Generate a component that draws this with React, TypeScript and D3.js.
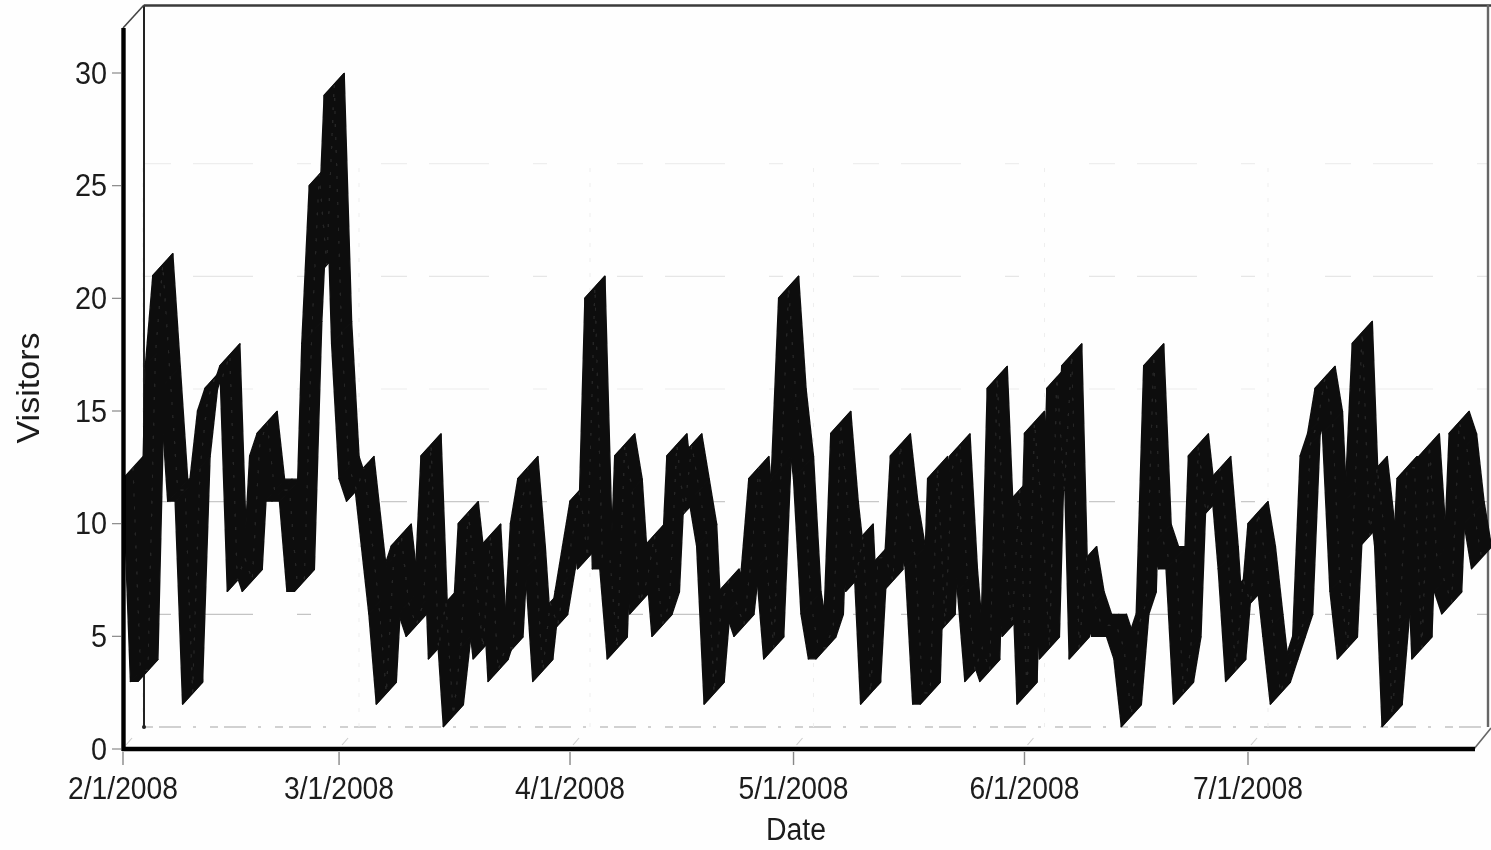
import React from "react";
import * as d3 from "d3";

const startDate = "2008-02-01";
const visitors = [
  12,3,3,17,21,16,11,11,2,12,
  15,16,16,17,7,8,7,13,14,11,
  11,11,7,7,18,25,21,29,18,12,
  11,12,9,6,2,8,9,6,5,6,
  13,4,6,1,4,10,7,4,9,3,
  4,4,10,12,8,3,6,5,7,9,
  11,8,20,8,8,4,13,11,6,7,
  9,5,6,13,10,13,11,9,2,6,
  7,6,5,8,12,8,4,12,20,15,
  12,6,4,4,5,14,10,7,9,2,
  8,8,7,13,10,8,2,2,12,5,
  12,13,7,3,4,3,16,8,5,11,
  2,14,10,4,16,11,17,4,8,6,
  5,5,5,4,1,5,6,17,9,8,
  8,2,4,13,10,11,12,8,3,7,
  6,10,8,5,2,3,4,5,13,14,
  16,14,7,4,11,18,9,12,9,1,
  5,12,12,4,13,8,7,6,14,13,
  10,8,
];
const yTicks = [0, 5, 10, 15, 20, 25, 30];
const gridLevels = [5, 10, 15, 20, 25];
const gridShades = ["#c4c4c4", "#c8c8c8", "#ececec", "#e6e6e6", "#eeeeee"];
const xTickLabels = ["2/1/2008", "3/1/2008", "4/1/2008", "5/1/2008", "6/1/2008", "7/1/2008"];
const yTitle = "Visitors";
const xTitle = "Date";

const W = 1491;
const H = 850;
const dx = 20;
const dy = 22;
const parse = d3.utcParse("%Y-%m-%d");
const parseTick = d3.utcParse("%m/%d/%Y");
const t0 = parse(startDate) as Date;
const dates = visitors.map((_, i) => d3.utcDay.offset(t0, i));
const x = d3.scaleUtc().domain([t0, dates[dates.length - 1]]).range([123, 1471.5]);
const y = d3.scaleLinear().domain([0, 30]).range([749, 73]);
const FONT = "'Liberation Sans', Arial, sans-serif";

type P = { d: Date; v: number };
const points: P[] = visitors.map((v, i) => ({ d: dates[i], v }));
const area = d3
  .area<P>()
  .x0((p) => x(p.d))
  .y0((p) => y(p.v))
  .x1((p) => x(p.d) + dx)
  .y1((p) => y(p.v) - dy);
const midLine = d3
  .line<P>()
  .x((p) => x(p.d) + dx / 2)
  .y((p) => y(p.v) - dy / 2);

export default function App() {
  const backX0 = 123 + dx + 2;
  const backXEnd = 1488;
  const floorBack = y(0) - dy;
  return (
    <svg
      width={W}
      height={H}
      viewBox={`0 0 ${W} ${H}`}
      style={{ position: "absolute", left: 0, top: 0, background: "#fefefe" }}
      fontFamily={FONT}
    >
      <defs>
        <filter id="scan" x="-2%" y="-2%" width="104%" height="104%">
          <feGaussianBlur stdDeviation="0.6" />
        </filter>
      </defs>
      <g filter="url(#scan)">
        {/* back wall grid */}
        {gridLevels.map((v, i) => (
          <line
            key={v}
            x1={backX0}
            x2={backXEnd}
            y1={y(v) - dy}
            y2={y(v) - dy}
            stroke={gridShades[i]}
            strokeWidth={1.1}
            strokeDasharray="26 22 60 44 14 70"
          />
        ))}
        <line x1={backX0} x2={backXEnd} y1={floorBack} y2={floorBack} stroke="#c2c2c2" strokeWidth={1.3} strokeDasharray="8 6 22 12 3 14" />
        {xTickLabels.map((t) => {
          const px = x(parseTick(t) as Date);
          return (
            <g key={t}>
              <line x1={px + dx} x2={px + dx} y1={floorBack} y2={y(25) - dy} stroke="#eeeeee" strokeWidth={1} strokeDasharray="4 11" />
              <line x1={px + 3} x2={px + dx - 11} y1={y(0) - 4} y2={y(0) - dy + 11} stroke="#cccccc" strokeWidth={1.1} />
            </g>
          );
        })}

        {/* box frame */}
        <line x1={backX0 - 1} x2={backX0 - 1} y1={5} y2={floorBack} stroke="#222" strokeWidth={2} />
        <circle cx={backX0 - 1} cy={floorBack} r={2} fill="#222" />
        <line x1={backX0 - 1} x2={W} y1={5.5} y2={5.5} stroke="#3a3a3a" strokeWidth={2.4} />
        <line x1={backXEnd} x2={backXEnd} y1={5} y2={floorBack} stroke="#666" strokeWidth={2.4} />
        <line x1={123} x2={backX0 - 1} y1={28} y2={5} stroke="#444" strokeWidth={1.6} />
        <line x1={1474} x2={W} y1={y(0)} y2={y(0) - 21} stroke="#666" strokeWidth={1.6} />

        {/* ribbon */}
        {points.slice(1).map((p, i) => (
          <path
            key={i}
            d={area([points[i], p]) as string}
            fill="#0f0f0f"
            stroke="#0f0f0f"
            strokeWidth={1.4}
            strokeLinejoin="round"
          />
        ))}
        <path d={midLine(points) as string} fill="none" stroke="#333333" strokeWidth={1.2} strokeDasharray="3 10" opacity={0.7} />

        {/* axes */}
        <line x1={123.5} x2={123.5} y1={28} y2={751} stroke="#000" strokeWidth={4.4} />
        <line x1={122} x2={1475} y1={y(0)} y2={y(0)} stroke="#000" strokeWidth={4.4} />
        {yTicks.map((v) => (
          <g key={v}>
            <line x1={112} x2={121} y1={y(v)} y2={y(v)} stroke="#888" strokeWidth={1.2} />
            <text transform={`translate(107,${y(v) + 10.5}) scale(0.9,1)`} textAnchor="end" fontSize={32} fill="#1a1a1a">
              {v}
            </text>
          </g>
        ))}
        {xTickLabels.map((t) => {
          const px = x(parseTick(t) as Date);
          return (
            <g key={t}>
              <line x1={px} x2={px} y1={752} y2={765} stroke="#888" strokeWidth={1.4} />
              <text x={px} y={798.5} textAnchor="middle" fontSize={32} fill="#1a1a1a" textLength={110} lengthAdjust="spacingAndGlyphs">
                {t}
              </text>
            </g>
          );
        })}
        <text x={796} y={840} textAnchor="middle" fontSize={31} fill="#1a1a1a" textLength={60} lengthAdjust="spacingAndGlyphs">
          {xTitle}
        </text>
        <text
          transform="translate(39,388) rotate(-90)"
          textAnchor="middle"
          fontSize={32}
          fill="#1a1a1a"
          textLength={111}
          lengthAdjust="spacingAndGlyphs"
        >
          {yTitle}
        </text>
      </g>
    </svg>
  );
}
